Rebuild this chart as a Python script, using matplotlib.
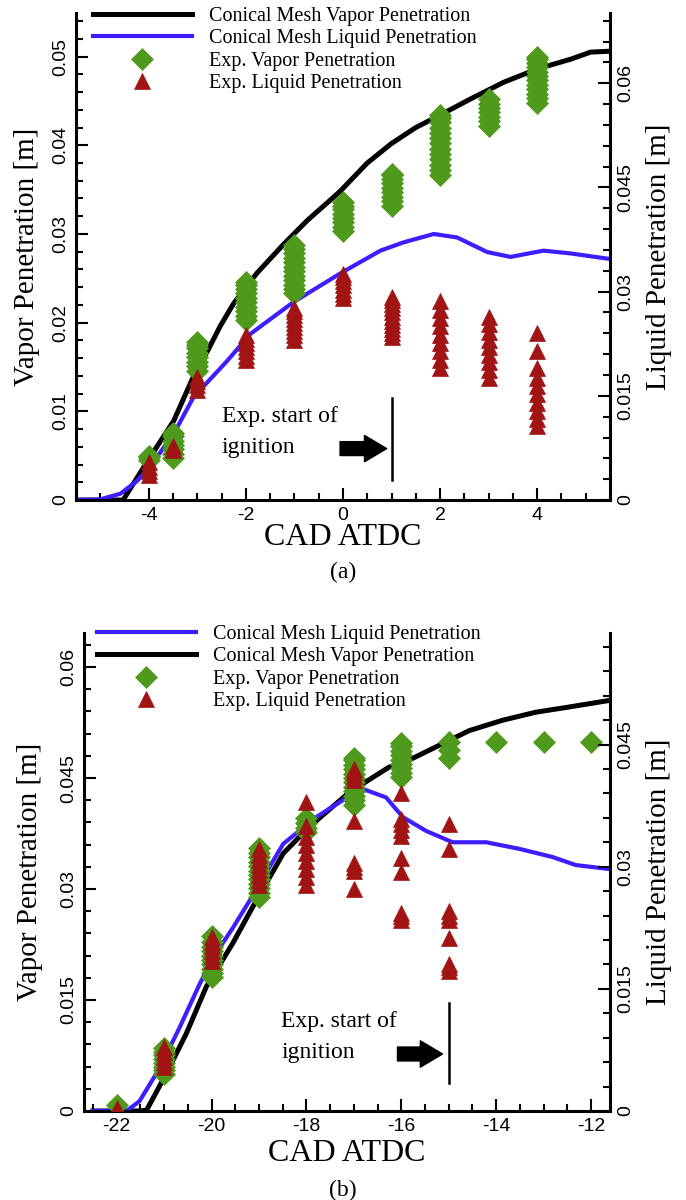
import numpy as np
import matplotlib.pyplot as plt
from matplotlib.ticker import MultipleLocator, FuncFormatter

plt.rcParams['font.family'] = ['Liberation Sans', 'DejaVu Sans']
plt.rcParams['axes.unicode_minus'] = False
SERIF = ['Liberation Serif', 'DejaVu Serif']

GREEN = '#4f9a1c'
RED = '#a01414'
BLUE = '#3c1eff'

# ---------------- panel (a) ----------------
# simulated curves (vapor on left axis, liquid on right axis) [m]
a_vap_cad = [-5.5, -4.53, -3.99, -3.49, -3.01, -2.81, -2.53, -2.26, -2.0, -1.77, -1.23, -0.74,
             -0.06, 0.5, 1.0, 1.5, 2.0, 2.62, 3.31, 4.0, 4.69, 5.1, 5.5]
a_vap_pen = [0.0, 0.0, 0.0047, 0.0089, 0.0148, 0.0166, 0.0196, 0.0221, 0.0240, 0.0256, 0.0288, 0.0315,
             0.0348, 0.0380, 0.0402, 0.0420, 0.0434, 0.0452, 0.0471, 0.0486, 0.0497, 0.0505, 0.0506]
a_liq_cad = [-5.5, -5.0, -4.59, -4.25, -3.99, -3.49, -3.08, -2.39, -1.91, -1.02,
             -0.06, 0.77, 1.25, 1.87, 2.35, 2.97, 3.45, 4.13, 4.69, 5.5]
a_liq_pen = [0.0, 0.0001, 0.0009, 0.0027, 0.0047, 0.0095, 0.0148, 0.0200, 0.0239, 0.0285,
             0.0326, 0.0359, 0.0371, 0.0383, 0.0378, 0.0357, 0.0350, 0.0359, 0.0355, 0.0347]

# experiments: one list of measured values per crank angle
a_exp_cad = [-4, -3.5, -3, -2, -1, 0, 1, 2, 3, 4]
a_exp_vap = [
    [0.0045, 0.0048, 0.0050],
    [0.0047, 0.0052, 0.0057, 0.0062, 0.0067, 0.0072, 0.0076],
    [0.0146, 0.0151, 0.0156, 0.0161, 0.0166, 0.0171, 0.0175, 0.0178],
    [0.0203, 0.0208, 0.0213, 0.0218, 0.0223, 0.0228, 0.0233, 0.0238, 0.0242, 0.0246],
    [0.0233, 0.0238, 0.0243, 0.0248, 0.0253, 0.0258, 0.0263, 0.0268, 0.0273, 0.0278, 0.0283, 0.0287],
    [0.0303, 0.0308, 0.0313, 0.0318, 0.0323, 0.0328, 0.0332, 0.0336],
    [0.0332, 0.0337, 0.0342, 0.0347, 0.0352, 0.0357, 0.0362, 0.0366, 0.0368],
    [0.0366, 0.0372, 0.0378, 0.0384, 0.0390, 0.0396, 0.0402, 0.0408, 0.0414, 0.0420, 0.0426, 0.0431, 0.0434],
    [0.0422, 0.0427, 0.0432, 0.0437, 0.0442, 0.0447, 0.0452],
    [0.0448, 0.0453, 0.0458, 0.0463, 0.0468, 0.0473, 0.0478, 0.0483, 0.0488, 0.0493, 0.0497, 0.0500],
]
a_exp_liq = [
    [0.0036, 0.0042, 0.0048, 0.0055],
    [0.0072, 0.0078],
    [0.0159, 0.0165, 0.0171, 0.0177],
    [0.0202, 0.0208, 0.0214, 0.0220, 0.0226, 0.0232, 0.0237],
    [0.0231, 0.0237, 0.0243, 0.0249, 0.0255, 0.0261, 0.0267, 0.0272, 0.0276],
    [0.0291, 0.0297, 0.0303, 0.0309, 0.0315, 0.0321, 0.0326],
    [0.0234, 0.0240, 0.0246, 0.0252, 0.0258, 0.0264, 0.0270, 0.0276, 0.0282, 0.0288, 0.0293],
    [0.0190, 0.0202, 0.0214, 0.0226, 0.0238, 0.0250, 0.0262, 0.0274, 0.0286],
    [0.0176, 0.0187, 0.0198, 0.0209, 0.0220, 0.0231, 0.0242, 0.0253, 0.0264],
    [0.0241, 0.0215, 0.0190, 0.0176, 0.0164, 0.0153, 0.0140, 0.0128, 0.0116, 0.0106],
]
a_ignition = 1.0

# ---------------- panel (b) ----------------
b_vap_cad = [-22.5, -21.52, -21.37, -20.95, -20.53, -20.11, -19.55, -19.13, -18.49, -17.94,
             -17.09, -16.25, -15.97, -15.27, -14.57, -13.87, -13.16, -12.46, -11.6]
b_vap_pen = [0.0, 0.0, 0.0001, 0.0051, 0.0105, 0.0168, 0.0227, 0.0276, 0.0348, 0.0384,
             0.0431, 0.0465, 0.0470, 0.0492, 0.0514, 0.0528, 0.0539, 0.0546, 0.0555]
b_liq_cad = [-22.5, -21.79, -21.52, -21.09, -20.67, -20.25, -19.97, -19.55, -19.2, -18.49,
             -17.79, -17.09, -16.74, -16.32, -15.97, -15.48, -14.92, -14.21, -13.52, -12.82,
             -12.32, -11.6]
b_liq_pen = [0.0, 0.0, 0.0012, 0.0053, 0.0103, 0.0156, 0.0188, 0.0225, 0.0258, 0.0328,
             0.0361, 0.0387, 0.0394, 0.0385, 0.0361, 0.0344, 0.0330, 0.0330, 0.0322, 0.0312,
             0.0302, 0.0297]

b_exp_cad = [-22, -21, -20, -19, -18, -17, -16, -15, -14, -13, -12]
b_exp_vap = [
    [0.0008],
    [0.0050, 0.0055, 0.0060, 0.0065, 0.0070, 0.0075, 0.0080, 0.0085],
    [0.0181, 0.0186, 0.0192, 0.0198, 0.0204, 0.0210, 0.0216, 0.0222, 0.0228, 0.0236],
    [0.0289, 0.0295, 0.0301, 0.0307, 0.0313, 0.0319, 0.0325, 0.0331, 0.0337, 0.0343, 0.0349, 0.0355],
    [0.0377, 0.0383, 0.0389, 0.0396],
    [0.0414, 0.0420, 0.0426, 0.0432, 0.0438, 0.0444, 0.0450, 0.0456, 0.0462, 0.0468, 0.0474, 0.0477],
    [0.0451, 0.0457, 0.0463, 0.0469, 0.0475, 0.0481, 0.0487, 0.0493, 0.0497],
    [0.0477, 0.0488, 0.0499],
    [0.0499],
    [0.0499],
    [0.0499],
]
b_exp_liq = [
    [0.0004],
    [0.0054, 0.0060, 0.0066, 0.0072, 0.0079],
    [0.0184, 0.0190, 0.0196, 0.0202, 0.0208, 0.0214],
    [0.0278, 0.0284, 0.0290, 0.0296, 0.0302, 0.0308, 0.0314, 0.0322],
    [0.0277, 0.0287, 0.0297, 0.0307, 0.0317, 0.0327, 0.0337, 0.0350, 0.0379],
    [0.0272, 0.0295, 0.0300, 0.0304, 0.0356, 0.0406, 0.0411, 0.0416, 0.0420],
    [0.0234, 0.0239, 0.0243, 0.0293, 0.0311, 0.0338, 0.0345, 0.0352, 0.0359, 0.0391],
    [0.0172, 0.0177, 0.0181, 0.0213, 0.0234, 0.0240, 0.0246, 0.0322, 0.0353],
    [], [], [],
]
b_ignition = -15.0


def flatten(cads, stacks):
    xs = [c for c, vals in zip(cads, stacks) for _ in vals]
    ys = [v for vals in stacks for v in vals]
    return xs, ys


fmt = FuncFormatter(lambda v, p: f"{v:g}")


def panel(rect, xlim, ylim_l, ylim_r, xmaj, ymaj_l, ymin_l, ymaj_r, ymin_r,
          vap, liq, exp_cad, exp_vap, exp_liq, liq_first):
    ax = fig.add_axes(rect)
    ax2 = ax.twinx()
    ax.set_xlim(*xlim)
    ax.set_ylim(*ylim_l)
    ax2.set_ylim(*ylim_r)

    # liquid series are drawn in ax but use the right-hand scale
    lv, = ax.plot(vap[0], vap[1], color='black', lw=3.6, zorder=2,
                  label='Conical Mesh Vapor Penetration')
    ll, = ax.plot(liq[0], liq[1], color=BLUE, lw=3.0, zorder=2, transform=ax2.transData,
                  label='Conical Mesh Liquid Penetration')
    xs, ys = flatten(exp_cad, exp_vap)
    ev, = ax.plot(xs, ys, 'D', ms=11.5, color=GREEN, mec=GREEN, mew=0.5, ls='none',
                  zorder=3, label='Exp. Vapor Penetration')
    xs, ys = flatten(exp_cad, exp_liq)
    el, = ax.plot(xs, ys, '^', ms=11, color=RED, mec=RED, mew=0.5, ls='none',
                  zorder=4, transform=ax2.transData, label='Exp. Liquid Penetration')
    ax.set_xlim(*xlim)
    ax.set_ylim(*ylim_l)

    ax.xaxis.set_major_locator(MultipleLocator(xmaj))
    ax.xaxis.set_minor_locator(MultipleLocator(0.5))
    ax.yaxis.set_major_locator(MultipleLocator(ymaj_l))
    ax.yaxis.set_minor_locator(MultipleLocator(ymin_l))
    ax2.yaxis.set_major_locator(MultipleLocator(ymaj_r))
    ax2.yaxis.set_minor_locator(MultipleLocator(ymin_r))
    ax.yaxis.set_major_formatter(fmt)
    ax2.yaxis.set_major_formatter(fmt)

    for a in (ax, ax2):
        a.tick_params(which='both', direction='in', width=1.5, labelsize=14, pad=5)
        a.tick_params(which='major', length=8.5)
        a.tick_params(which='minor', length=5)
        a.tick_params(axis='y', labelrotation=90)
        for lbl in a.get_yticklabels():
            lbl.set_verticalalignment('center')
    ax.tick_params(top=False, right=False, which='both')
    ax2.tick_params(left=False, which='both')

    ax.spines['top'].set_visible(False)
    ax.spines['right'].set_visible(False)
    for s in ('top', 'left', 'bottom'):
        ax2.spines[s].set_visible(False)
    for s in ('left', 'bottom'):
        ax.spines[s].set_linewidth(2.2)
    ax2.spines['right'].set_linewidth(2.2)

    ax.set_xlabel('CAD ATDC', family=SERIF, fontsize=23)
    ax.set_ylabel('Vapor Penetration [m]', family=SERIF, fontsize=21)
    ax2.set_ylabel('Liquid Penetration [m]', family=SERIF, fontsize=21)
    ax.xaxis.label.set_va('center')
    ax.yaxis.label.set_va('center')
    ax2.yaxis.label.set_va('center')

    handles = [ll, lv, ev, el] if liq_first else [lv, ll, ev, el]
    return ax, ax2, handles


fig = plt.figure(figsize=(6.86, 12), dpi=100)
leg_kw = dict(loc='upper left', bbox_transform=fig.transFigure, frameon=False, borderpad=0,
              borderaxespad=0, handlelength=4.9, handletextpad=0.85, labelspacing=0.16,
              numpoints=1, prop={'family': SERIF, 'size': 14.5})
arrow_kw = dict(arrowstyle='simple,head_length=16,head_width=19,tail_width=10',
                mutation_scale=1, color='black', shrinkA=0, shrinkB=0)

# panel (a)
axa, axa2, ha = panel([0.1108, 0.5833, 0.7784, 0.4058], (-5.5, 5.5), (0, 0.0549), (0, 0.0701),
                      2, 0.01, 0.002, 0.015, 0.003,
                      (a_vap_cad, a_vap_pen), (a_liq_cad, a_liq_pen),
                      a_exp_cad, a_exp_vap, a_exp_liq, False)
axa.xaxis.set_label_coords(0.5, -0.076)
axa.yaxis.set_label_coords(-0.092, 0.5)
axa2.yaxis.set_label_coords(1.092, 0.5)
axa.legend(handles=ha, bbox_to_anchor=(93 / 686, 1 - 7 / 1200), **leg_kw)
axa.plot([a_ignition, a_ignition], [0.0023, 0.0115], color='black', lw=1.8, zorder=5)
axa.annotate('', xy=(0.9, 0.0058), xytext=(-0.06, 0.0058), arrowprops=arrow_kw)
axa.text(-2.5, 0.0077, 'Exp. start of\nignition', family=SERIF, fontsize=17,
         ha='left', va='center', linespacing=1.6)
fig.text(343 / 686, 1 - 572 / 1200, '(a)', family=SERIF, fontsize=17, ha='center', va='center')

# panel (b)
axb, axb2, hb = panel([0.1224, 0.0742, 0.7668, 0.3983], (-22.69, -11.6), (0, 0.0646), (0, 0.0587),
                      2, 0.015, 0.003, 0.015, 0.003,
                      (b_vap_cad, b_vap_pen), (b_liq_cad, b_liq_pen),
                      b_exp_cad, b_exp_vap, b_exp_liq, True)
axb.xaxis.set_label_coords(0.5, -0.09)
axb.yaxis.set_label_coords(-0.103, 0.5)
axb2.yaxis.set_label_coords(1.093, 0.5)
axb.legend(handles=hb, bbox_to_anchor=(97 / 686, 1 - 625 / 1200), **leg_kw)
axb.plot([b_ignition, b_ignition], [0.0038, 0.0146], color='black', lw=1.8, zorder=5)
axb.annotate('', xy=(-15.13, 0.0077), xytext=(-16.08, 0.0077), arrowprops=arrow_kw)
axb.text(-18.53, 0.0100, 'Exp. start of\nignition', family=SERIF, fontsize=17,
         ha='left', va='center', linespacing=1.6)
fig.text(343 / 686, 1 - 1190 / 1200, '(b)', family=SERIF, fontsize=17, ha='center', va='center')

fig.savefig('out.png', dpi=100)
